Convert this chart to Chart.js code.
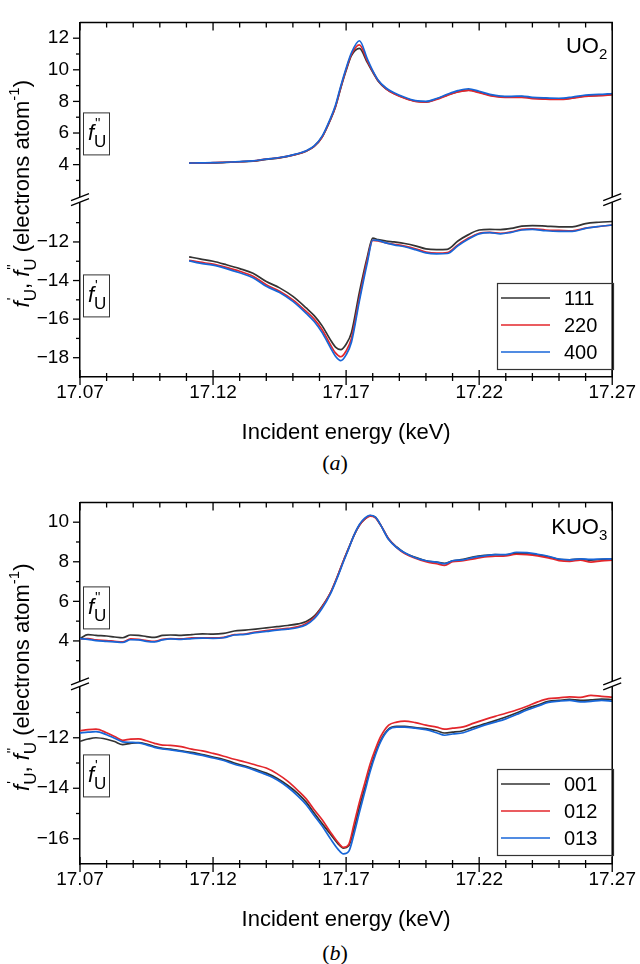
<!DOCTYPE html>
<html>
<head>
<meta charset="utf-8">
<script src="https://cdn.jsdelivr.net/npm/chart.js@4.4.0/dist/chart.umd.min.js"></script>
<style>
  body { margin: 0; background: #fff; width: 640px; height: 964px; position: relative; overflow: hidden; }
  canvas { position: absolute; left: 0; }
  .cap { position: absolute; left: 300px; width: 70px; text-align: center;
         font: 22px "Liberation Serif", "Times New Roman", serif; color: #000; }
</style>
</head>
<body>
<canvas id="chartA" width="640" height="446" style="top:0"></canvas>
<div class="cap" style="top:450px">(<i>a</i>)</div>
<canvas id="chartB" width="640" height="453" style="top:480px"></canvas>
<div class="cap" style="top:940px">(<i>b</i>)</div>
<script>
const FONT = '"Liberation Sans", Arial, sans-serif';

// ---- panel (a) UO2 ----
const namesA = ['111', '220', '400'];
const energyA = [17.111, 17.115, 17.12, 17.125, 17.13, 17.135, 17.14, 17.145, 17.15, 17.155,
  17.158, 17.161, 17.164, 17.166, 17.168, 17.170, 17.172, 17.175, 17.178, 17.180,
  17.182, 17.185, 17.188, 17.192, 17.196, 17.200, 17.204, 17.208, 17.212, 17.216,
  17.220, 17.224, 17.228, 17.232, 17.236, 17.240, 17.245, 17.250, 17.255, 17.260,
  17.265, 17.270];
const fppA111 = [4.10, 4.10, 4.11, 4.14, 4.18, 4.22, 4.33, 4.43, 4.60, 4.85,
  5.15, 5.75, 6.80, 7.65, 8.85, 9.95, 10.90, 11.36, 10.45, 9.85,
  9.30, 8.80, 8.50, 8.22, 8.02, 7.97, 8.15, 8.40, 8.62, 8.72,
  8.58, 8.40, 8.30, 8.28, 8.30, 8.22, 8.18, 8.15, 8.22, 8.35,
  8.38, 8.45];
const fppA220 = [4.10, 4.10, 4.12, 4.15, 4.18, 4.23, 4.35, 4.44, 4.60, 4.86,
  5.16, 5.75, 6.82, 7.68, 8.90, 10.02, 10.98, 11.58, 10.55, 9.90,
  9.32, 8.80, 8.48, 8.20, 8.00, 7.95, 8.12, 8.38, 8.60, 8.70,
  8.55, 8.36, 8.27, 8.25, 8.26, 8.18, 8.14, 8.12, 8.20, 8.32,
  8.36, 8.42];
const fppA400 = [4.10, 4.11, 4.12, 4.15, 4.19, 4.24, 4.35, 4.45, 4.62, 4.88,
  5.18, 5.80, 6.88, 7.75, 8.98, 10.10, 11.08, 11.84, 10.68, 9.95,
  9.36, 8.85, 8.55, 8.26, 8.05, 8.00, 8.18, 8.45, 8.68, 8.80,
  8.64, 8.45, 8.34, 8.32, 8.34, 8.26, 8.22, 8.20, 8.28, 8.40,
  8.44, 8.50];
const fpA111 = [-12.77, -12.88, -13.00, -13.18, -13.38, -13.62, -14.05, -14.38, -14.82, -15.42,
  -15.82, -16.35, -17.05, -17.45, -17.58, -17.30, -16.70, -14.60, -12.75, -11.80,
  -11.88, -11.95, -12.00, -12.08, -12.20, -12.36, -12.40, -12.38, -11.95, -11.62,
  -11.38, -11.35, -11.36, -11.30, -11.18, -11.15, -11.18, -11.22, -11.22, -11.05,
  -10.98, -10.94];
const fpA220 = [-12.95, -13.05, -13.15, -13.32, -13.52, -13.78, -14.22, -14.55, -15.00, -15.60,
  -16.00, -16.55, -17.30, -17.75, -17.95, -17.65, -17.00, -14.90, -12.90, -11.92,
  -11.95, -12.05, -12.12, -12.22, -12.35, -12.52, -12.58, -12.55, -12.15, -11.80,
  -11.55, -11.50, -11.55, -11.48, -11.35, -11.32, -11.38, -11.40, -11.42, -11.28,
  -11.20, -11.12];
const fpA400 = [-12.98, -13.10, -13.20, -13.38, -13.60, -13.85, -14.30, -14.62, -15.08, -15.70,
  -16.12, -16.70, -17.45, -17.92, -18.15, -17.85, -17.20, -15.05, -13.05, -11.90,
  -11.92, -12.05, -12.15, -12.25, -12.40, -12.57, -12.62, -12.60, -12.20, -11.85,
  -11.58, -11.52, -11.58, -11.50, -11.38, -11.35, -11.42, -11.45, -11.45, -11.30,
  -11.20, -11.12];

// ---- panel (b) KUO3 ----
const namesB = ['001', '012', '013'];
const energyB = [17.070, 17.073, 17.076, 17.080, 17.083, 17.086, 17.089, 17.092, 17.095, 17.098,
  17.101, 17.104, 17.108, 17.112, 17.116, 17.120, 17.124, 17.128, 17.132, 17.136,
  17.140, 17.144, 17.148, 17.152, 17.155, 17.158, 17.161, 17.164, 17.167, 17.169,
  17.171, 17.173, 17.175, 17.177, 17.179, 17.181, 17.183, 17.186, 17.189, 17.192,
  17.196, 17.200, 17.204, 17.207, 17.210, 17.214, 17.218, 17.222, 17.226, 17.230,
  17.234, 17.238, 17.242, 17.246, 17.250, 17.254, 17.258, 17.262, 17.266, 17.270];
const fppB001 = [4.12, 4.32, 4.28, 4.25, 4.20, 4.16, 4.30, 4.28, 4.22, 4.18,
  4.28, 4.30, 4.28, 4.32, 4.36, 4.34, 4.38, 4.50, 4.55, 4.60,
  4.66, 4.72, 4.78, 4.86, 4.98, 5.25, 5.75, 6.40, 7.35, 8.05,
  8.70, 9.35, 9.85, 10.15, 10.33, 10.25, 9.85, 9.15, 8.75, 8.45,
  8.22, 8.05, 7.98, 7.92, 8.05, 8.12, 8.25, 8.32, 8.36, 8.35,
  8.42, 8.40, 8.35, 8.25, 8.12, 8.10, 8.14, 8.08, 8.12, 8.15];
const fppB012 = [4.10, 4.12, 4.05, 4.02, 3.98, 3.95, 4.10, 4.08, 4.02, 3.98,
  4.08, 4.12, 4.10, 4.15, 4.16, 4.15, 4.18, 4.32, 4.35, 4.45,
  4.52, 4.58, 4.63, 4.72, 4.88, 5.18, 5.72, 6.40, 7.35, 8.05,
  8.70, 9.35, 9.85, 10.15, 10.30, 10.22, 9.85, 9.15, 8.72, 8.42,
  8.18, 8.00, 7.90, 7.82, 8.00, 8.05, 8.15, 8.25, 8.28, 8.30,
  8.38, 8.36, 8.30, 8.20, 8.06, 8.02, 8.08, 7.98, 8.05, 8.08];
const fppB013 = [4.12, 4.08, 4.02, 3.98, 3.95, 3.92, 4.06, 4.05, 3.98, 3.95,
  4.05, 4.10, 4.08, 4.12, 4.14, 4.13, 4.16, 4.30, 4.33, 4.42,
  4.48, 4.55, 4.60, 4.68, 4.82, 5.12, 5.65, 6.35, 7.30, 8.00,
  8.68, 9.35, 9.88, 10.20, 10.35, 10.25, 9.85, 9.12, 8.72, 8.45,
  8.20, 8.05, 7.98, 7.90, 8.05, 8.10, 8.22, 8.30, 8.36, 8.36,
  8.48, 8.46, 8.38, 8.28, 8.14, 8.10, 8.15, 8.12, 8.14, 8.15];
const fpB001 = [-12.14, -12.05, -12.00, -12.06, -12.15, -12.27, -12.22, -12.19, -12.25, -12.35,
  -12.42, -12.45, -12.52, -12.58, -12.67, -12.76, -12.86, -13.00, -13.12, -13.25,
  -13.40, -13.60, -13.88, -14.22, -14.55, -14.98, -15.40, -15.80, -16.20, -16.37,
  -16.28, -15.60, -14.75, -14.00, -13.25, -12.60, -12.10, -11.65, -11.55, -11.55,
  -11.60, -11.64, -11.72, -11.81, -11.78, -11.72, -11.58, -11.45, -11.32, -11.18,
  -11.02, -10.84, -10.70, -10.56, -10.52, -10.48, -10.52, -10.50, -10.47, -10.49];
const fpB012 = [-11.72, -11.68, -11.66, -11.80, -11.95, -12.10, -12.05, -12.04, -12.12, -12.22,
  -12.29, -12.30, -12.35, -12.45, -12.52, -12.62, -12.73, -12.85, -12.96, -13.08,
  -13.20, -13.42, -13.72, -14.10, -14.42, -14.85, -15.25, -15.72, -16.15, -16.34,
  -16.22, -15.40, -14.55, -13.80, -13.05, -12.45, -11.95, -11.50, -11.38, -11.34,
  -11.40, -11.50, -11.58, -11.66, -11.62, -11.57, -11.42, -11.28, -11.15, -11.03,
  -10.90, -10.75, -10.58, -10.45, -10.42, -10.38, -10.40, -10.32, -10.36, -10.39];
const fpB013 = [-11.81, -11.78, -11.76, -11.88, -12.02, -12.16, -12.18, -12.20, -12.28, -12.38,
  -12.44, -12.48, -12.54, -12.62, -12.70, -12.80, -12.90, -13.05, -13.16, -13.30,
  -13.46, -13.66, -13.95, -14.32, -14.65, -15.08, -15.50, -15.98, -16.42, -16.60,
  -16.50, -15.80, -14.95, -14.15, -13.35, -12.68, -12.15, -11.68, -11.58, -11.58,
  -11.62, -11.68, -11.80, -11.90, -11.85, -11.80, -11.65, -11.50, -11.38, -11.25,
  -11.08, -10.90, -10.75, -10.60, -10.55, -10.52, -10.58, -10.56, -10.52, -10.55];

// ---- axes ----
const xTicks = [17.07, 17.12, 17.17, 17.22, 17.27];
const yTopTicksA = [4, 6, 8, 10, 12];
const yBotTicksA = [-12, -14, -16, -18];
const yTopTicksB = [4, 6, 8, 10];
const yBotTicksB = [-12, -14, -16];
const yTopMinorA = [3, 5, 7, 9, 11];
const yBotMinorA = [-11, -13, -15, -17];
const yTopMinorB = [3, 5, 7, 9];
const yBotMinorB = [-11, -13, -15];

const lineColors = ['#333333', '#e3262b', '#1766d8'];

// rich text: runs of [kind, text(, text2)]
function runFont(k) {
  if (k === 'i') return 'italic 22px ' + FONT;
  if (k === 'n') return '22px ' + FONT;
  return '15px ' + FONT;
}
function drawRich(ctx, runs, x, y, measureOnly) {
  let cx = x;
  runs.forEach(r => {
    const k = r[0];
    if (k === 'ss') {
      ctx.font = '14px ' + FONT;
      const w1 = ctx.measureText(r[1]).width;
      ctx.font = '17px ' + FONT;
      const w2 = ctx.measureText(r[2]).width;
      if (!measureOnly) {
        ctx.font = '14px ' + FONT; ctx.fillText(r[1], cx + 1, y - 12);
        ctx.font = '17px ' + FONT; ctx.fillText(r[2], cx, y + 7);
      }
      cx += Math.max(w1, w2);
    } else {
      ctx.font = runFont(k);
      const dy = k === 'sup' ? -10 : (k === 'sub' ? 6 : 0);
      if (!measureOnly) ctx.fillText(r[1], cx, y + dy);
      cx += ctx.measureText(r[1]).width;
    }
  });
  return cx - x;
}

const decor = {
  id: 'decor',
  afterDraw(chart, args, o) {
    const {ctx, chartArea: a, scales} = chart;
    const xs = scales.x, yt = scales.yTop, yb = scales.yBot;
    ctx.save();
    ctx.strokeStyle = '#000';
    ctx.fillStyle = '#000';
    ctx.lineWidth = 1.5;
    // frame top and right
    ctx.beginPath();
    ctx.moveTo(a.left, a.top); ctx.lineTo(a.right, a.top); ctx.lineTo(a.right, a.bottom);
    ctx.stroke();
    // x ticks bottom (both sides) and top (inward)
    ctx.lineWidth = 1.3;
    for (let i = 0; i <= 20; i++) {
      const px = xs.getPixelForValue(17.07 + i * 0.01);
      const major = i % 5 === 0;
      ctx.beginPath();
      ctx.moveTo(px, a.bottom - (major ? 7 : 4)); ctx.lineTo(px, a.bottom + (major ? 8 : 4));
      ctx.moveTo(px, a.top); ctx.lineTo(px, a.top + (major ? 8 : 5));
      ctx.stroke();
    }
    // y ticks, outward
    [[yt, o.topTicks, 7], [yt, o.topMinor, 4], [yb, o.botTicks, 7], [yb, o.botMinor, 4]].forEach(([s, vals, len]) => {
      vals.forEach(v => {
        const py = s.getPixelForValue(v);
        ctx.beginPath(); ctx.moveTo(a.left - len, py); ctx.lineTo(a.left, py); ctx.stroke();
      });
    });
    // axis breaks
    const by = yt.bottom;
    [a.left, a.right].forEach(bx => {
      const dx = 9, dy = 3.5, g = 2.5;
      ctx.fillStyle = '#fff';
      ctx.beginPath();
      ctx.moveTo(bx - dx, by - g + dy); ctx.lineTo(bx + dx, by - g - dy);
      ctx.lineTo(bx + dx, by + g - dy); ctx.lineTo(bx - dx, by + g + dy);
      ctx.closePath(); ctx.fill();
      ctx.lineWidth = 1.3;
      ctx.beginPath();
      ctx.moveTo(bx - dx, by - g + dy); ctx.lineTo(bx + dx, by - g - dy);
      ctx.moveTo(bx - dx, by + g + dy); ctx.lineTo(bx + dx, by + g - dy);
      ctx.stroke();
    });
    ctx.fillStyle = '#000';
    ctx.textBaseline = 'alphabetic';
    ctx.textAlign = 'left';
    // boxed f'' and f' labels
    [[o.fppBox, "''"], [o.fpBox, "'"]].forEach(([top, pr]) => {
      const bx = a.left + 3, btop = a.top + top;
      ctx.lineWidth = 1;
      ctx.strokeStyle = '#333';
      ctx.strokeRect(bx + 0.5, btop + 0.5, 26, 42);
      drawRich(ctx, [['i', 'f'], ['ss', pr, 'U']], bx + 5, btop + 28);
    });
    // compound label, top right
    const cw = drawRich(ctx, o.compound, 0, 0, true);
    drawRich(ctx, o.compound, a.right - 5 - cw, a.top + o.compoundY);
    // y axis title (rotated)
    const title = [['i', 'f'], ['ss', "'", 'U'], ['n', ', '], ['i', 'f'], ['ss', "''", 'U'],
      ['n', ' (electrons atom'], ['sup', '-1'], ['n', ')']];
    const tw = drawRich(ctx, title, 0, 0, true);
    ctx.save();
    ctx.translate(29, (a.top + a.bottom) / 2 - 6);
    ctx.rotate(-Math.PI / 2);
    drawRich(ctx, title, -tw / 2, 0);
    ctx.restore();
    // legend
    const lb = o.legend;
    const lt = a.bottom - lb.gap - lb.h;
    ctx.strokeStyle = '#333';
    ctx.lineWidth = 1.2;
    ctx.strokeRect(lb.x + 0.5, lt + 0.5, lb.w, lb.h);
    ctx.font = '20px ' + FONT;
    ctx.textBaseline = 'middle';
    chart.data.datasets.filter(d => d.yAxisID === 'yTop').forEach((d, i) => {
      const ly = lt + 15 + i * 27;
      ctx.strokeStyle = d.borderColor;
      ctx.lineWidth = 1.6;
      ctx.beginPath(); ctx.moveTo(lb.x + 4, ly); ctx.lineTo(lb.x + 53, ly); ctx.stroke();
      ctx.fillStyle = '#000';
      ctx.fillText(d.label, lb.x + 67, ly + 1);
    });
    ctx.restore();
  }
};

function fmtY(v) { return v < 0 ? '\u2212' + Math.abs(v) : String(v); }

function buildPanel(id, p) {
  const sets = [];
  p.names.forEach((name, k) => {
    sets.push({label: name, yAxisID: 'yTop', borderColor: lineColors[k], order: 3 - k,
      data: p.energy.map((e, i) => ({x: e, y: p.fpp[k][i]}))});
  });
  p.names.forEach((name, k) => {
    sets.push({label: name, yAxisID: 'yBot', borderColor: lineColors[k], order: 3 - k,
      data: p.energy.map((e, i) => ({x: e, y: p.fp[k][i]}))});
  });
  const tickFont = {size: 19, family: FONT};
  const yCommon = {
    type: 'linear', position: 'left', stack: 'f',
    grid: {display: false, drawTicks: false},
    border: {color: '#000', width: 1.5},
    ticks: {font: tickFont, color: '#000', padding: 11, callback: fmtY, autoSkip: false},
    afterFit: s => { s.width = 80; }
  };
  new Chart(document.getElementById(id), {
    type: 'line',
    data: {datasets: sets},
    options: {
      responsive: false, animation: false, events: [],
      layout: {autoPadding: false, padding: {top: p.padTop, right: 23, bottom: 0, left: 0}},
      elements: {line: {borderWidth: 1.7, cubicInterpolationMode: 'monotone', fill: false}, point: {radius: 0}},
      plugins: {
        legend: {display: false}, tooltip: {enabled: false},
        decor: {
          topTicks: p.topTicks, topMinor: p.topMinor, botTicks: p.botTicks, botMinor: p.botMinor,
          fppBox: p.fppBox, fpBox: p.fpBox, compound: p.compound, compoundY: p.compoundY,
          legend: {x: 497, w: 116, h: 86, gap: p.legendGap}
        }
      },
      scales: {
        x: {
          type: 'linear', min: 17.07, max: 17.27,
          afterBuildTicks: s => { s.ticks = xTicks.map(v => ({value: v})); },
          grid: {display: false, drawTicks: false},
          border: {color: '#000', width: 1.5},
          ticks: {font: tickFont, color: '#000', padding: 4, maxRotation: 0, autoSkip: false,
            callback: v => Number(v).toFixed(2)},
          title: {display: true, text: 'Incident energy (keV)', color: '#000',
            font: {size: 22, family: FONT}, padding: {top: 0, bottom: 0}},
          afterFit: s => { s.height = 69; }
        },
        yBot: Object.assign({}, yCommon, {
          min: p.botMin, max: p.botMax, stackWeight: p.botWeight,
          afterBuildTicks: s => { s.ticks = p.botTicks.map(v => ({value: v})); }
        }),
        yTop: Object.assign({}, yCommon, {
          min: p.topMin, max: p.topMax, stackWeight: p.topWeight,
          afterBuildTicks: s => { s.ticks = p.topTicks.map(v => ({value: v})); }
        })
      }
    },
    plugins: [decor]
  });
}

buildPanel('chartA', {
  names: namesA, energy: energyA,
  fpp: [fppA111, fppA220, fppA400], fp: [fpA111, fpA220, fpA400],
  padTop: 1,
  topMin: 1.78, topMax: 13, topWeight: 188,
  botMin: -19, botMax: -9.81, botWeight: 188,
  topTicks: yTopTicksA, topMinor: yTopMinorA, botTicks: yBotTicksA, botMinor: yBotMinorA,
  fppBox: 90, fpBox: 252, compound: [['n', 'UO'], ['sub', '2']], compoundY: 31, legendGap: 8
});

buildPanel('chartB', {
  names: namesB, energy: energyB,
  fpp: [fppB001, fppB012, fppB013], fp: [fpB001, fpB012, fpB013],
  padTop: 8,
  topMin: 1.83, topMax: 11, topWeight: 188.7,
  botMin: -17, botMax: -9.865, botWeight: 187.3,
  topTicks: yTopTicksB, topMinor: yTopMinorB, botTicks: yBotTicksB, botMinor: yBotMinorB,
  fppBox: 84, fpBox: 252, compound: [['n', 'KUO'], ['sub', '3']], compoundY: 32, legendGap: 9
});
</script>
</body>
</html>
